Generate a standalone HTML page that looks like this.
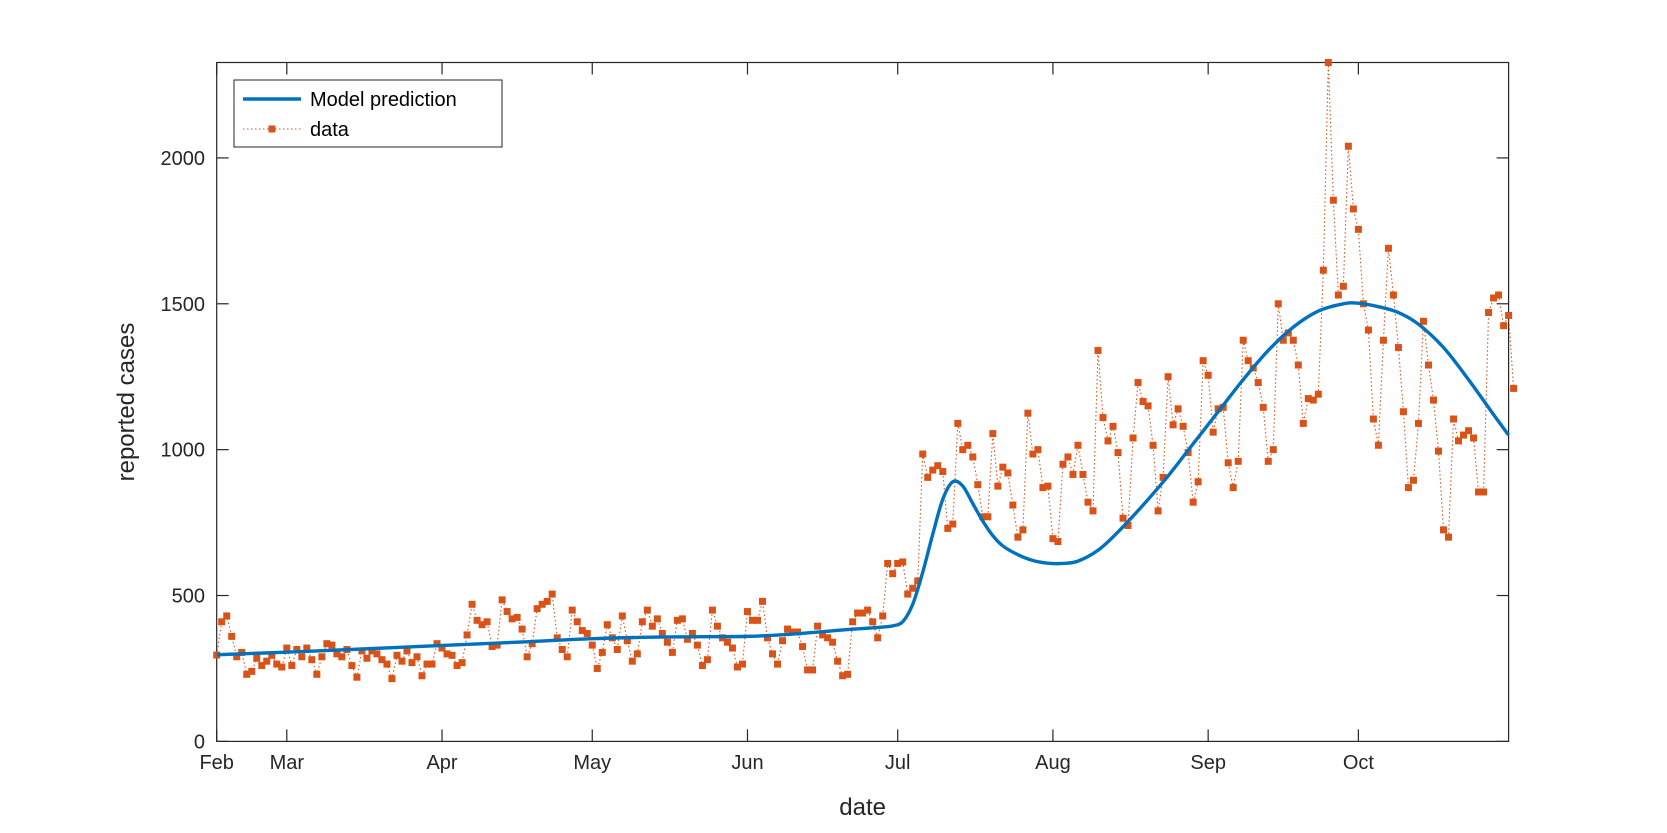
<!DOCTYPE html>
<html><head><meta charset="utf-8"><style>
html,body{margin:0;padding:0;background:#fff;}
svg{display:block;font-family:"Liberation Sans",sans-serif;}
</style></head><body>
<svg id="chart" width="1667" height="833" viewBox="0 0 1667 833" xmlns="http://www.w3.org/2000/svg">
<rect width="1667" height="833" fill="#fff"/>
<g id="plot"></g>
</svg>
<script>
// ---- data ----
const monthLabels = ["Feb","Mar","Apr","May","Jun","Jul","Aug","Sep","Oct"];
const monthTickDays = [0,14,45,75,106,136,167,198,228];
const yTicks = [0,500,1000,1500,2000];
const dataValues = [
296,410,430,360,290,305,230,240,285,260,275,295,265,255,
320,260,315,290,320,280,230,290,335,330,300,290,315,260,220,310,285,310,300,280,265,215,295,275,310,270,290,225,265,265,335,
320,300,295,260,270,365,470,415,400,410,325,330,485,445,420,425,385,290,335,455,470,480,505,355,315,290,450,410,380,370,
330,250,305,400,355,315,430,345,275,300,410,450,395,420,370,340,305,415,420,350,370,330,260,280,450,395,355,340,320,255,265,
445,415,415,480,355,300,265,345,385,375,375,325,245,245,395,365,355,340,275,225,230,410,440,440,450,410,355,430,610,575,
610,615,505,525,550,985,905,930,945,925,730,745,1090,1000,1015,975,880,770,770,1055,875,940,920,810,700,725,1125,985,1000,870,875,
695,685,950,975,915,1015,915,820,790,1340,1110,1030,1080,990,765,740,1040,1230,1165,1150,1015,790,905,1250,1085,1140,1080,990,820,890,1305,
1255,1060,1140,1145,955,870,960,1375,1305,1280,1230,1145,960,1000,1500,1375,1400,1375,1290,1090,1175,1170,1190,1615,2327,1855,1530,1560,2040,1825,
1755,1500,1410,1105,1015,1375,1690,1530,1350,1130,870,895,1090,1440,1290,1170,995,725,700,1105,1030,1050,1065,1040,855,855,1470,1520,1530,1425,1460,1210
];
const modelDays = [0,20,40,60,75,90,106,115,125,130,133,135,137,139,141,143,145,147,149,151,153,155,157,160,163,166,169,172,176,180,185,190,195,200,205,210,215,220,225,228,232,236,240,245,250,255,258];
const modelValues = [297,310,325,340,352,358,360,368,382,388,392,396,410,470,580,710,830,890,875,815,755,705,670,640,620,611,610,618,655,718,810,910,1020,1130,1240,1340,1420,1475,1500,1502,1490,1470,1430,1350,1240,1120,1050];

// ---- axes ----
const L=216.7,R=1508.6,T=62.5,B=741.4;
const xMin=0,xMax=258,yMin=0,yMax=2327;
const xs=d=>L+(d-xMin)/(xMax-xMin)*(R-L);
const ys=v=>B-(v-yMin)/(yMax-yMin)*(B-T);
const NS="http://www.w3.org/2000/svg";
const g=document.getElementById('plot');
function mk(tag,attrs,parent){const e=document.createElementNS(NS,tag);for(const k in attrs)e.setAttribute(k,attrs[k]);(parent||g).appendChild(e);return e;}

// ticks
monthTickDays.forEach((d,i)=>{
  const x=xs(d);
  const t1=mk('line',{x1:x,x2:x,y1:B,y2:B-12,stroke:'#262626','stroke-width':1.2});
  
  
  mk('line',{x1:x,x2:x,y1:T,y2:T+12,stroke:'#262626','stroke-width':1.2});
  const tx=mk('text',{x:x,y:769,'text-anchor':'middle','font-size':20,fill:'#262626'});
  tx.textContent=monthLabels[i];
  
  
});
yTicks.forEach(v=>{
  const y=ys(v);
  mk('line',{x1:L,x2:L+12,y1:y,y2:y,stroke:'#262626','stroke-width':1.2});
  mk('line',{x1:R,x2:R-12,y1:y,y2:y,stroke:'#262626','stroke-width':1.2});
  const tx=mk('text',{x:205,y:y+7,'text-anchor':'end','font-size':20,fill:'#262626'});
  tx.textContent=v;
  
  
});
const box=mk('rect',{x:L,y:T,width:R-L,height:B-T,fill:'none',stroke:'#262626','stroke-width':1.2});



// data series
let dp='';
dataValues.forEach((v,i)=>{dp+=(i?'L':'M')+xs(i).toFixed(2)+','+ys(v).toFixed(2);});
const dl=mk('path',{d:dp,fill:'none',stroke:'#D95319','stroke-width':1.1,'stroke-dasharray':'1.5,2.5'});


const mg=mk('g',{fill:'#D95319'});


dataValues.forEach((v,i)=>{
  const r=mk('rect',{x:xs(i)-3.5,y:ys(v)-3.5,width:7,height:7},mg);
  
  
});

// model curve (Catmull-Rom through read values)
const pts=modelDays.map((d,i)=>[xs(d),ys(modelValues[i])]);
let mp='M'+pts[0][0]+','+pts[0][1];
for(let i=0;i<pts.length-1;i++){
  const p0=pts[Math.max(0,i-1)],p1=pts[i],p2=pts[i+1],p3=pts[Math.min(pts.length-1,i+2)];
  const c1=[p1[0]+(p2[0]-p0[0])/6,p1[1]+(p2[1]-p0[1])/6];
  const c2=[p2[0]-(p3[0]-p1[0])/6,p2[1]-(p3[1]-p1[1])/6];
  mp+='C'+c1[0].toFixed(2)+','+c1[1].toFixed(2)+' '+c2[0].toFixed(2)+','+c2[1].toFixed(2)+' '+p2[0].toFixed(2)+','+p2[1].toFixed(2);
}
const ml=mk('path',{d:mp,fill:'none',stroke:'#0072BD','stroke-width':3.4,'stroke-linejoin':'round'});



// labels
const xl=mk('text',{x:(L+R)/2,y:815,'text-anchor':'middle','font-size':24,fill:'#262626'});
xl.textContent='date';


const yl=mk('text',{x:0,y:0,'text-anchor':'middle','font-size':24,fill:'#262626',transform:'translate(134,402) rotate(-90)'});
yl.textContent='reported cases';



// legend
const lg=mk('g',{});


mk('rect',{x:234,y:80,width:268,height:67,fill:'#fff',stroke:'#262626','stroke-width':1},lg);
mk('line',{x1:243,x2:301,y1:99,y2:99,stroke:'#0072BD','stroke-width':3.4},lg);
const t1=mk('text',{x:310,y:106,'font-size':20,fill:'#000'},lg);
t1.textContent='Model prediction';


mk('line',{x1:243,x2:301,y1:129,y2:129,stroke:'#D95319','stroke-width':1.1,'stroke-dasharray':'1.5,2.5'},lg);
mk('rect',{x:268.5,y:125.5,width:7,height:7,fill:'#D95319'},lg);
const t2=mk('text',{x:310,y:136,'font-size':20,fill:'#000'},lg);
t2.textContent='data';


</script>
</body></html>
